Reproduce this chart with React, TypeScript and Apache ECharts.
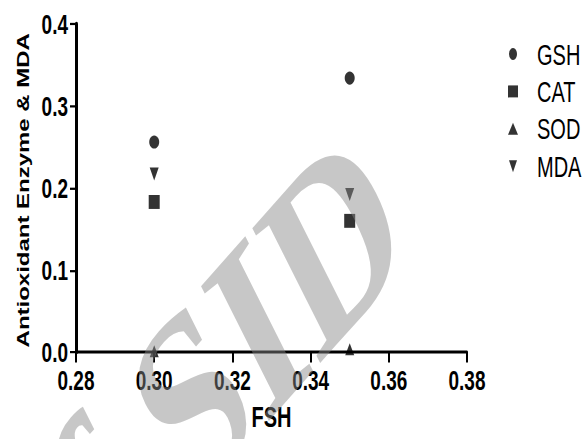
import { useEffect, useRef } from 'react';
import * as echarts from 'echarts';

// ---- data ----
const seriesNames = ['GSH', 'CAT', 'SOD', 'MDA'];
const fshValues = [0.30, 0.35];
const gshValues = [0.256, 0.334];
const catValues = [0.183, 0.160];
const sodValues = [0.001, 0.0035];
const mdaValues = [0.217, 0.192];

const xMin = 0.28;
const xMax = 0.38;
const xStep = 0.02;
const yMin = 0;
const yMax = 0.4;
const yStep = 0.1;

const xTitle = 'FSH';
const yTitle = 'Antioxidant Enzyme & MDA';
const watermarkText = 'of SID';

// The reference picture is stretched vertically; the chart is laid out in a
// shorter box and stretched with CSS to reproduce that look.
const W = 584;
const H_OUT = 439;
const H_IN = 293;
const STRETCH = H_OUT / H_IN;

const SANS = '"Liberation Sans", Arial, Helvetica, sans-serif';

const pairs = (vals: number[]) => fshValues.map((x, i) => [x, vals[i]]);

const DOWN_TRI = 'path://M0,0L10,0L5,10Z';

export default function App() {
  const ref = useRef<HTMLDivElement>(null);
  useEffect(() => {
    document.body.style.margin = '0';
    const chart = echarts.init(ref.current!, null, { renderer: 'svg' });
    const labelStyle = { fontFamily: SANS, fontWeight: 'bold' as const, fontSize: 19, color: '#000' };
    chart.setOption({
      animation: false,
      backgroundColor: '#fff',
      grid: { left: 76, right: 117, top: 16, bottom: 51, containLabel: false },
      xAxis: {
        type: 'value',
        min: xMin,
        max: xMax,
        interval: xStep,
        name: xTitle,
        nameLocation: 'middle',
        nameGap: 33,
        nameTextStyle: { fontFamily: SANS, fontWeight: 'bold', fontSize: 20, color: '#000' },
        axisLine: { show: true, onZero: false, lineStyle: { color: '#000', width: 2 } },
        axisTick: { show: true, length: 7, lineStyle: { color: '#000', width: 2 } },
        axisLabel: { ...labelStyle, margin: 9, formatter: (v: number) => v.toFixed(2) },
        splitLine: { show: false },
      },
      yAxis: {
        type: 'value',
        min: yMin,
        max: yMax,
        interval: yStep,
        axisLine: { show: true, onZero: false, lineStyle: { color: '#000', width: 3 } },
        axisTick: { show: true, length: 6, lineStyle: { color: '#000', width: 1.5 } },
        axisLabel: { ...labelStyle, margin: 8, formatter: (v: number) => v.toFixed(1) },
        splitLine: { show: false },
      },
      legend: {
        orient: 'vertical',
        left: 503,
        top: 21,
        itemWidth: 10,
        itemHeight: 8,
        itemGap: 5,
        selectedMode: false,
        data: seriesNames,
        textStyle: { fontFamily: SANS, fontSize: 20, color: '#000', lineHeight: 20, padding: [0, 0, 0, 14] },
      },
      series: [
        { type: 'scatter', name: seriesNames[0], symbol: 'circle', symbolSize: [10, 8.7], data: pairs(gshValues), itemStyle: { color: '#000' } },
        { type: 'scatter', name: seriesNames[1], symbol: 'rect', symbolSize: [11, 9.3], data: pairs(catValues), itemStyle: { color: '#000' } },
        { type: 'scatter', name: seriesNames[2], symbol: 'triangle', symbolSize: [9, 8], data: pairs(sodValues), itemStyle: { color: '#000' } },
        { type: 'scatter', name: seriesNames[3], symbol: DOWN_TRI, symbolSize: [9, 8.7], data: pairs(mdaValues), itemStyle: { color: '#000' } },
      ],
      graphic: [
        {
          type: 'text',
          x: 24,
          y: 127,
          rotation: Math.PI / 2,
          silent: true,
          style: {
            text: yTitle,
            fontFamily: SANS,
            fontWeight: 'bold',
            fontSize: 16,
            fill: '#000',
            align: 'center',
            verticalAlign: 'middle',
            textAlign: 'center',
            textVerticalAlign: 'middle',
          },
        },
        {
          type: 'text',
          x: 382,
          y: 123,
          rotation: (37 * Math.PI) / 180,
          silent: true,
          z: 100,
          style: {
            text: watermarkText,
            fontFamily: '"Liberation Serif", "DejaVu Serif", serif',
            fontWeight: 'bold',
            fontSize: 172,
            fill: 'rgb(137,137,137)',
            opacity: 0.47,
            align: 'right',
            verticalAlign: 'middle',
            textAlign: 'right',
            textVerticalAlign: 'middle',
          },
        },
      ],
    });
    return () => chart.dispose();
  }, []);
  return (
    <div style={{ position: 'fixed', left: 0, top: 0, width: W, height: H_OUT, overflow: 'hidden', background: '#fff' }}>
      <div
        ref={ref}
        style={{ width: W, height: H_IN, transform: `scaleY(${STRETCH})`, transformOrigin: '0 0' }}
      />
    </div>
  );
}
